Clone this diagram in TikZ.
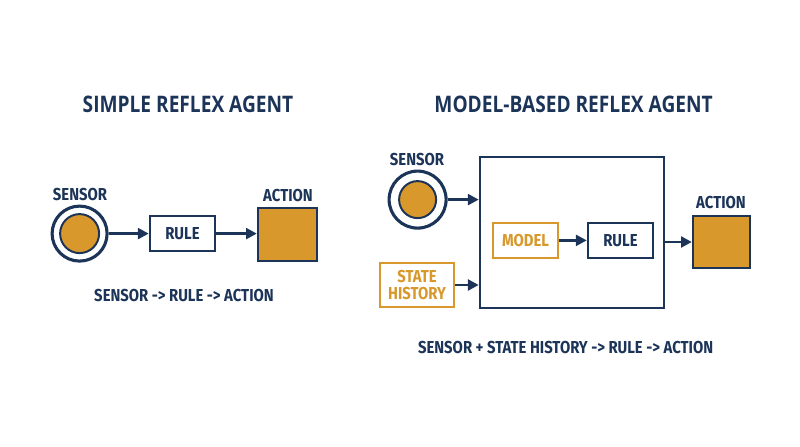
\documentclass[tikz,border=0pt]{standalone}
\usepackage{fontspec}
\setsansfont{Fira Sans}[FakeStretch=0.86]
\newfontfamily\titlefont{Open Sans}[FakeStretch=0.84]
\usetikzlibrary{positioning,arrows.meta,calc}
\definecolor{agentnavy}{HTML}{1C3458}
\definecolor{agentorange}{HTML}{D8982C}

\tikzset{
  lbl/.style={font=\sffamily\bfseries\fontsize{12.3}{14}\selectfont,text=agentnavy,inner sep=0pt},
  heading/.style={font=\titlefont\bfseries\fontsize{16.2}{19}\selectfont,text=agentnavy,inner sep=0pt},
  rulebox/.style={draw=agentnavy,line width=1.8pt,fill=white,minimum width=1.625cm,
    minimum height=0.875cm,font=\sffamily\bfseries\fontsize{12.3}{14}\selectfont,text=agentnavy},
  orangebox/.style={draw=agentorange,line width=1.8pt,fill=white,align=center,
    font=\sffamily\bfseries\fontsize{12.3}{11.4}\selectfont,text=agentorange,inner sep=1pt},
  actionbox/.style={draw=agentnavy,line width=1.8pt,fill=agentorange},
  sensorring/.style={circle,draw=agentnavy,line width=2.2pt,fill=white,inner sep=0pt},
  sensorcore/.style={circle,draw=agentnavy,line width=1.4pt,fill=agentorange,inner sep=0pt},
  flow/.style={draw=agentnavy,line width=1.9pt,-{Triangle[length=2.7mm,width=2.7mm]}}
}

\begin{document}
\begin{tikzpicture}
\useasboundingbox (0,0) rectangle (20,-11.175);

% simple reflex agent
\node[heading] (titleA) at (4.7,-2.6) {SIMPLE REFLEX AGENT};
\node[sensorring,minimum size=1.375cm] (sensA) at (1.99,-5.84) {};
\node[sensorcore,minimum size=0.975cm] at (sensA) {};
\node[lbl] (sensAlbl) at (2.0,-4.86) {SENSOR};
\node[rulebox] (ruleA) at (4.5625,-5.84) {RULE};
\node[actionbox,minimum width=1.475cm,minimum height=1.325cm] (actA) at (7.19,-5.86) {};
\node[lbl] (actAlbl) at (7.2,-4.9) {ACTION};
\node[lbl] (chainA) at (4.6,-7.4) {SENSOR -> RULE -> ACTION};

\draw[flow] (sensA) -- (ruleA);
\draw[flow] (ruleA) -- (ruleA -| actA.west);

% model-based reflex agent
\node[heading] (titleB) at (14.34,-2.6) {MODEL-BASED REFLEX AGENT};
\node[draw=agentnavy,line width=1.8pt,minimum width=4.6cm,minimum height=3.775cm]
      (core) at (14.3,-5.81) {};
\node[sensorring,minimum size=1.425cm] (sensB) at (10.44,-4.99) {};
\node[sensorcore,minimum size=0.925cm] at (sensB) {};
\node[lbl] (sensBlbl) at (10.425,-4.0) {SENSOR};
\node[orangebox,minimum width=1.85cm,minimum height=1.1cm] (hist) at (10.425,-7.125)
      {STATE\\HISTORY};
\node[orangebox,minimum width=1.625cm,minimum height=0.875cm] (model) at (13.1375,-6.01) {MODEL};
\node[rulebox] (ruleB) at (15.5125,-6.01) {RULE};
\node[actionbox,minimum width=1.425cm,minimum height=1.3cm] (actB) at (18.04,-6.05) {};
\node[lbl] (actBlbl) at (18.025,-5.075) {ACTION};
\node[lbl] (chainB) at (14.14,-8.7) {SENSOR + STATE HISTORY -> RULE -> ACTION};

\draw[flow] (sensB) -- (sensB -| core.west);
\draw[flow] (hist) -- (hist -| core.west);
\draw[flow] (model) -- (ruleB);
\draw[flow] (actB -| core.east) -- (actB);

\end{tikzpicture}
\end{document}
